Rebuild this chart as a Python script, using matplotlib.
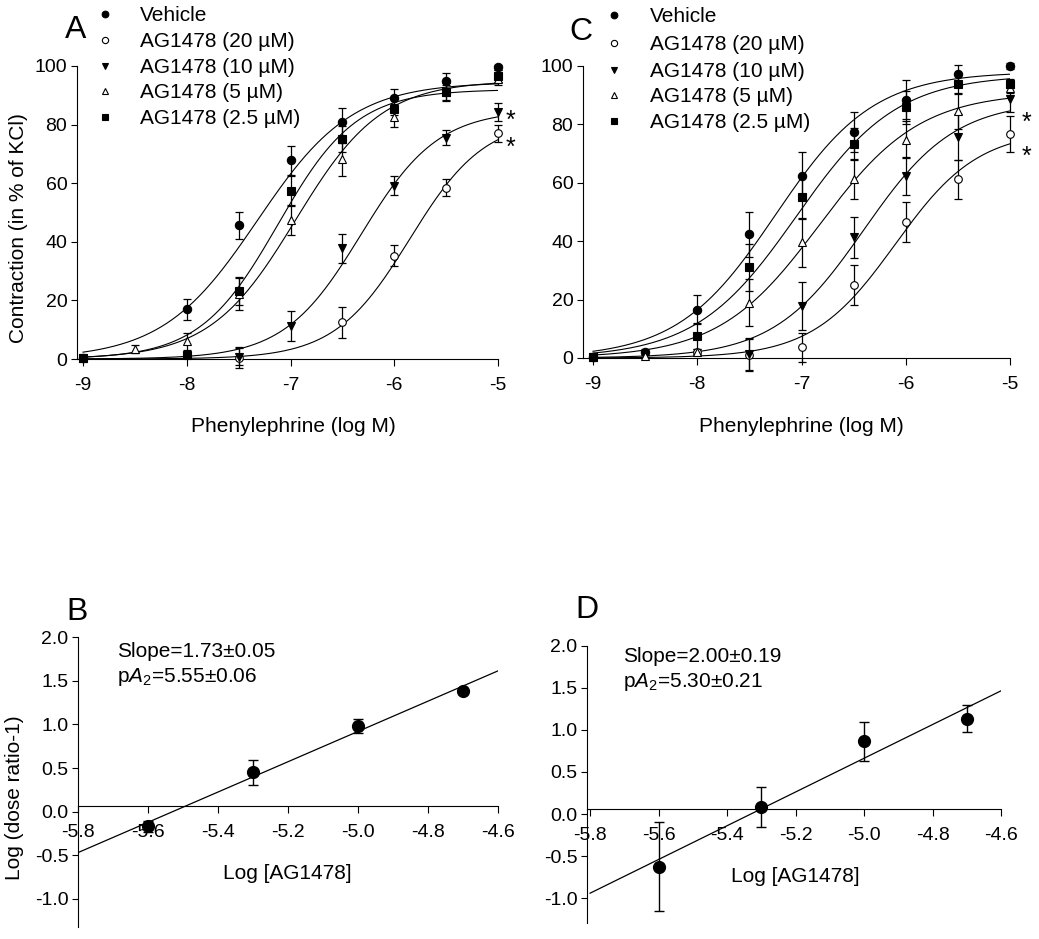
import numpy as np
import matplotlib
matplotlib.use("Agg")
import matplotlib.pyplot as plt
from matplotlib.lines import Line2D
from matplotlib.transforms import offset_copy

plt.rcParams['font.family'] = ['Liberation Sans', 'DejaVu Sans']
plt.rcParams['axes.unicode_minus'] = False
plt.rcParams['mathtext.fontset'] = 'custom'
plt.rcParams['mathtext.rm'] = 'Liberation Sans'
plt.rcParams['mathtext.it'] = 'Liberation Sans:italic'

# ---------------- DATA ----------------
series_names = ["Vehicle", "AG1478 (20 µM)", "AG1478 (10 µM)", "AG1478 (5 µM)", "AG1478 (2.5 µM)"]

# Panel A
A_veh_x = [-9, -8, -7.5, -7, -6.5, -6, -5.5, -5]
A_veh_y = [0.3, 17.0, 45.7, 67.8, 80.8, 89.1, 94.9, 99.5]
A_veh_e = [0.5, 3.6, 4.6, 5.0, 5.0, 3.0, 2.8, 1.0]
A_20_x = [-9, -7.5, -6.5, -6, -5.5, -5]
A_20_y = [0.2, 0.5, 12.5, 35.3, 58.5, 77.0]
A_20_e = [0.3, 3.5, 5.3, 3.5, 3.0, 3.0]
A_10_x = [-9, -7.5, -7, -6.5, -6, -5.5, -5]
A_10_y = [0.3, 0.8, 11.3, 37.8, 59.2, 75.5, 84.3]
A_10_e = [0.3, 3.0, 5.2, 5.0, 3.3, 2.5, 3.0]
A_5_x = [-9, -8.5, -8, -7.5, -7, -6.5, -6, -5.5, -5]
A_5_y = [0.3, 3.4, 6.0, 22.3, 47.4, 68.1, 82.6, 91.0, 95.5]
A_5_e = [0.3, 1.5, 3.0, 5.5, 5.0, 5.5, 3.5, 2.5, 2.0]
A_25_x = [-9, -8, -7.5, -7, -6.5, -6, -5.5, -5]
A_25_y = [0.3, 1.5, 23.3, 57.3, 75.0, 85.2, 91.2, 96.7]
A_25_e = [0.3, 0.8, 4.7, 5.0, 4.5, 2.0, 3.0, 2.0]
# fitted curve parameters (top, logEC50, hill) per series
A_fit_top = [94.5, 82.0, 85.0, 95.0, 92.0]
A_fit_ec50 = [-7.32, -5.85, -6.32, -6.95, -7.12]
A_fit_hill = [0.95, 1.2, 1.17, 1.05, 1.15]
A_star_y = [84.0, 74.7]

# Panel C
C_veh_x = [-9, -8.5, -8, -7.5, -7, -6.5, -6, -5.5, -5]
C_veh_y = [0.2, 2.0, 16.5, 42.4, 62.3, 77.3, 88.5, 97.2, 100.0]
C_veh_e = [0.3, 1.0, 5.0, 7.7, 8.2, 6.8, 6.8, 3.0, 1.0]
C_20_x = [-9, -8, -7.5, -7, -6.5, -6, -5.5, -5]
C_20_y = [0.2, 2.0, 1.0, 3.6, 25.0, 46.5, 61.2, 76.8]
C_20_e = [0.3, 0.5, 5.5, 5.0, 6.8, 6.8, 6.6, 6.2]
C_10_x = [-9, -7.5, -7, -6.5, -6, -5.5, -5]
C_10_y = [0.2, 1.5, 17.9, 41.3, 62.4, 75.7, 88.6]
C_10_e = [0.3, 5.5, 8.2, 6.9, 6.5, 8.0, 4.5]
C_5_x = [-9, -8.5, -8, -7.5, -7, -6.5, -6, -5.5, -5]
C_5_y = [0.2, 0.8, 2.0, 19.0, 39.6, 61.3, 74.8, 84.5, 92.6]
C_5_e = [0.3, 0.5, 1.0, 8.0, 8.3, 7.0, 6.2, 6.0, 2.0]
C_25_x = [-9, -8, -7.5, -7, -6.5, -6, -5.5, -5]
C_25_y = [0.3, 7.6, 31.0, 55.0, 73.2, 85.8, 93.8, 94.0]
C_25_e = [0.3, 4.5, 8.0, 7.5, 5.5, 5.6, 3.2, 1.5]
C_fit_top = [98.0, 78.0, 88.0, 91.0, 97.0]
C_fit_ec50 = [-7.25, -6.1, -6.4, -6.83, -7.05]
C_fit_hill = [0.925, 1.09, 1.0, 0.9, 0.9]
C_star_y = [83.1, 71.5]

# Panel B (Schild plot)
B_x = [-5.6, -5.3, -5.0, -4.7]
B_y = [-0.17, 0.45, 0.98, 1.38]
B_e = [0.06, 0.14, 0.08, 0.03]
B_line_x = [-5.8, -4.6]
B_line_y = [-0.47, 1.615]
B_text = ["Slope=1.73±0.05", r"p$\it{A}_2$=5.55±0.06"]

# Panel D (Schild plot)
D_x = [-5.6, -5.3, -5.0, -4.7]
D_y = [-0.625, 0.087, 0.863, 1.13]
D_e = [0.53, 0.24, 0.23, 0.16]
D_line_x = [-5.8, -4.6]
D_line_y = [-0.94, 1.464]
D_text = ["Slope=2.00±0.19", r"p$\it{A}_2$=5.30±0.21"]

conc_ticks = [-9, -8, -7, -6, -5]
contr_ticks = [0, 20, 40, 60, 80, 100]
schild_xticks = [-5.8, -5.6, -5.4, -5.2, -5.0, -4.8, -4.6]
schild_yticks = [-1.0, -0.5, 0.0, 0.5, 1.0, 1.5, 2.0]

# ---------------- STYLE ----------------
W, H = 1039, 939
fig = plt.figure(figsize=(W / 100, H / 100), dpi=100)

def ax_px(l, t, r, b):
    return fig.add_axes([l / W, 1 - b / H, (r - l) / W, (b - t) / H])

def ftext(x, y, s, **kw):
    return fig.text(x / W, 1 - y / H, s, **kw)

styles = [
    dict(marker='o', mfc='black', ms=6.0),
    dict(marker='o', mfc='white', ms=5.5),
    dict(marker='v', mfc='black', ms=6.0),
    dict(marker='^', mfc='white', ms=5.5),
    dict(marker='s', mfc='black', ms=5.2),
]

def hill(x, top, ec50, h):
    return top / (1 + 10 ** ((ec50 - x) * h))

def style_axes(ax, tick_fs=14):
    for s in ['top', 'right']:
        ax.spines[s].set_visible(False)
    for s in ['left', 'bottom']:
        ax.spines[s].set_linewidth(0.8)
    ax.tick_params(direction='out', width=0.8, labelsize=tick_fs)
    ax.tick_params(axis='y', length=4.5, pad=2.5)
    ax.tick_params(axis='x', length=5, pad=8)

def conc_panel(ax, data, tops, ec50s, hills, star_y, star_x):
    xs = np.linspace(-9, -5, 300)
    for (x, y, e), st, top, ec, h in zip(data, styles, tops, ec50s, hills):
        ax.plot(xs, hill(xs, top, ec, h), color='black', lw=0.8, zorder=2)
    for (x, y, e), st in zip(data, styles):
        ax.errorbar(x, y, yerr=e, fmt='none', ecolor='black', elinewidth=0.9,
                    capsize=3, capthick=0.9, clip_on=False, zorder=3)
        ax.plot(x, y, linestyle='none', marker=st['marker'], mfc=st['mfc'],
                mec='black', mew=0.8, ms=st['ms'], clip_on=False, zorder=4)
    star_tr = offset_copy(ax.transData, fig=fig, y=-10.5, units='points')
    for sy in star_y:
        ax.text(star_x, sy, '*', fontsize=18, ha='center', va='baseline',
                transform=star_tr)
    ax.set_ylim(0, 100)
    ax.set_yticks(contr_ticks)
    ax.set_xticks(conc_ticks)
    ax.set_xticklabels([str(t) for t in conc_ticks])
    style_axes(ax)

# Panel A
axA = ax_px(77, 66, 498, 359)
axA.set_xlim(-9.058, -5)
conc_panel(axA,
           [(A_veh_x, A_veh_y, A_veh_e), (A_20_x, A_20_y, A_20_e), (A_10_x, A_10_y, A_10_e),
            (A_5_x, A_5_y, A_5_e), (A_25_x, A_25_y, A_25_e)],
           A_fit_top, A_fit_ec50, A_fit_hill, A_star_y, -4.88)

# Panel C
axC = ax_px(583, 66, 1010, 358)
axC.set_xlim(-9.096, -5)
conc_panel(axC,
           [(C_veh_x, C_veh_y, C_veh_e), (C_20_x, C_20_y, C_20_e), (C_10_x, C_10_y, C_10_e),
            (C_5_x, C_5_y, C_5_e), (C_25_x, C_25_y, C_25_e)],
           C_fit_top, C_fit_ec50, C_fit_hill, C_star_y, -4.84)

def schild_panel(ax, x, y, e, lx, ly, xaxis_y):
    ax.plot(lx, ly, color='black', lw=0.9, zorder=2)
    ax.errorbar(x, y, yerr=e, fmt='none', ecolor='black', elinewidth=1.0,
                capsize=3.5, capthick=1.0, clip_on=False, zorder=3)
    ax.plot(x, y, linestyle='none', marker='o', mfc='black', mec='black',
            ms=8.5, clip_on=False, zorder=4)
    ax.set_xticks(schild_xticks)
    ax.set_xticklabels(['%.1f' % t for t in schild_xticks])
    ax.set_yticks(schild_yticks)
    ax.set_yticklabels(['%.1f' % t for t in schild_yticks])
    style_axes(ax)
    ax.spines['bottom'].set_position(('data', xaxis_y))

axB = ax_px(78, 637.3, 498, 926.7)
axB.set_xlim(-5.8, -4.6)
axB.set_ylim(-1.32, 2.0)
schild_panel(axB, B_x, B_y, B_e, B_line_x, B_line_y, 0.06)

axD = ax_px(587, 645.7, 1001, 923.5)
axD.set_xlim(-5.809, -4.6)
axD.set_ylim(-1.30, 2.0)
schild_panel(axD, D_x, D_y, D_e, D_line_x, D_line_y, 0.055)

# Axis labels
lab_fs = 15
ftext(19, 228, "Contraction (in % of KCl)", rotation=90, ha='center', va='center', fontsize=lab_fs)
ftext(293, 432, "Phenylephrine (log M)", ha='center', va='baseline', fontsize=lab_fs)
ftext(801, 432, "Phenylephrine (log M)", ha='center', va='baseline', fontsize=lab_fs)
ftext(15, 798, "Log (dose ratio-1)", rotation=90, ha='center', va='center', fontsize=lab_fs)
ftext(287, 879, "Log [AG1478]", ha='center', va='baseline', fontsize=lab_fs)
ftext(795, 882, "Log [AG1478]", ha='center', va='baseline', fontsize=lab_fs)

# Annotations
ftext(117, 657, B_text[0], ha='left', va='baseline', fontsize=lab_fs)
ftext(117, 682, B_text[1], ha='left', va='baseline', fontsize=lab_fs)
ftext(623, 662, D_text[0], ha='left', va='baseline', fontsize=lab_fs)
ftext(623, 687, D_text[1], ha='left', va='baseline', fontsize=lab_fs)

# Panel letters
let_fs = 23
ftext(65, 38, "A", ha='left', va='baseline', fontsize=let_fs)
ftext(569, 40, "C", ha='left', va='baseline', fontsize=let_fs)
ftext(66, 620, "B", ha='left', va='baseline', fontsize=let_fs)
ftext(575, 618, "D", ha='left', va='baseline', fontsize=let_fs)

# Legends
leg_ms = [4.8, 4.5, 4.8, 4.5, 4.3]
def legend(mx, tx, baselines):
    for name, st, ms, bl in zip(series_names, styles, leg_ms, baselines):
        fig.add_artist(Line2D([mx / W], [1 - (bl - 7.5) / H], transform=fig.transFigure,
                              marker=st['marker'], mfc=st['mfc'], mec='black', mew=0.8,
                              ms=ms, linestyle='none'))
        ftext(tx, bl, name, ha='left', va='baseline', fontsize=lab_fs)

legend(105, 140, [21, 47, 73, 98, 124])
legend(614, 650, [22, 50, 77, 102, 128])

fig.savefig("out.png", dpi=100)
